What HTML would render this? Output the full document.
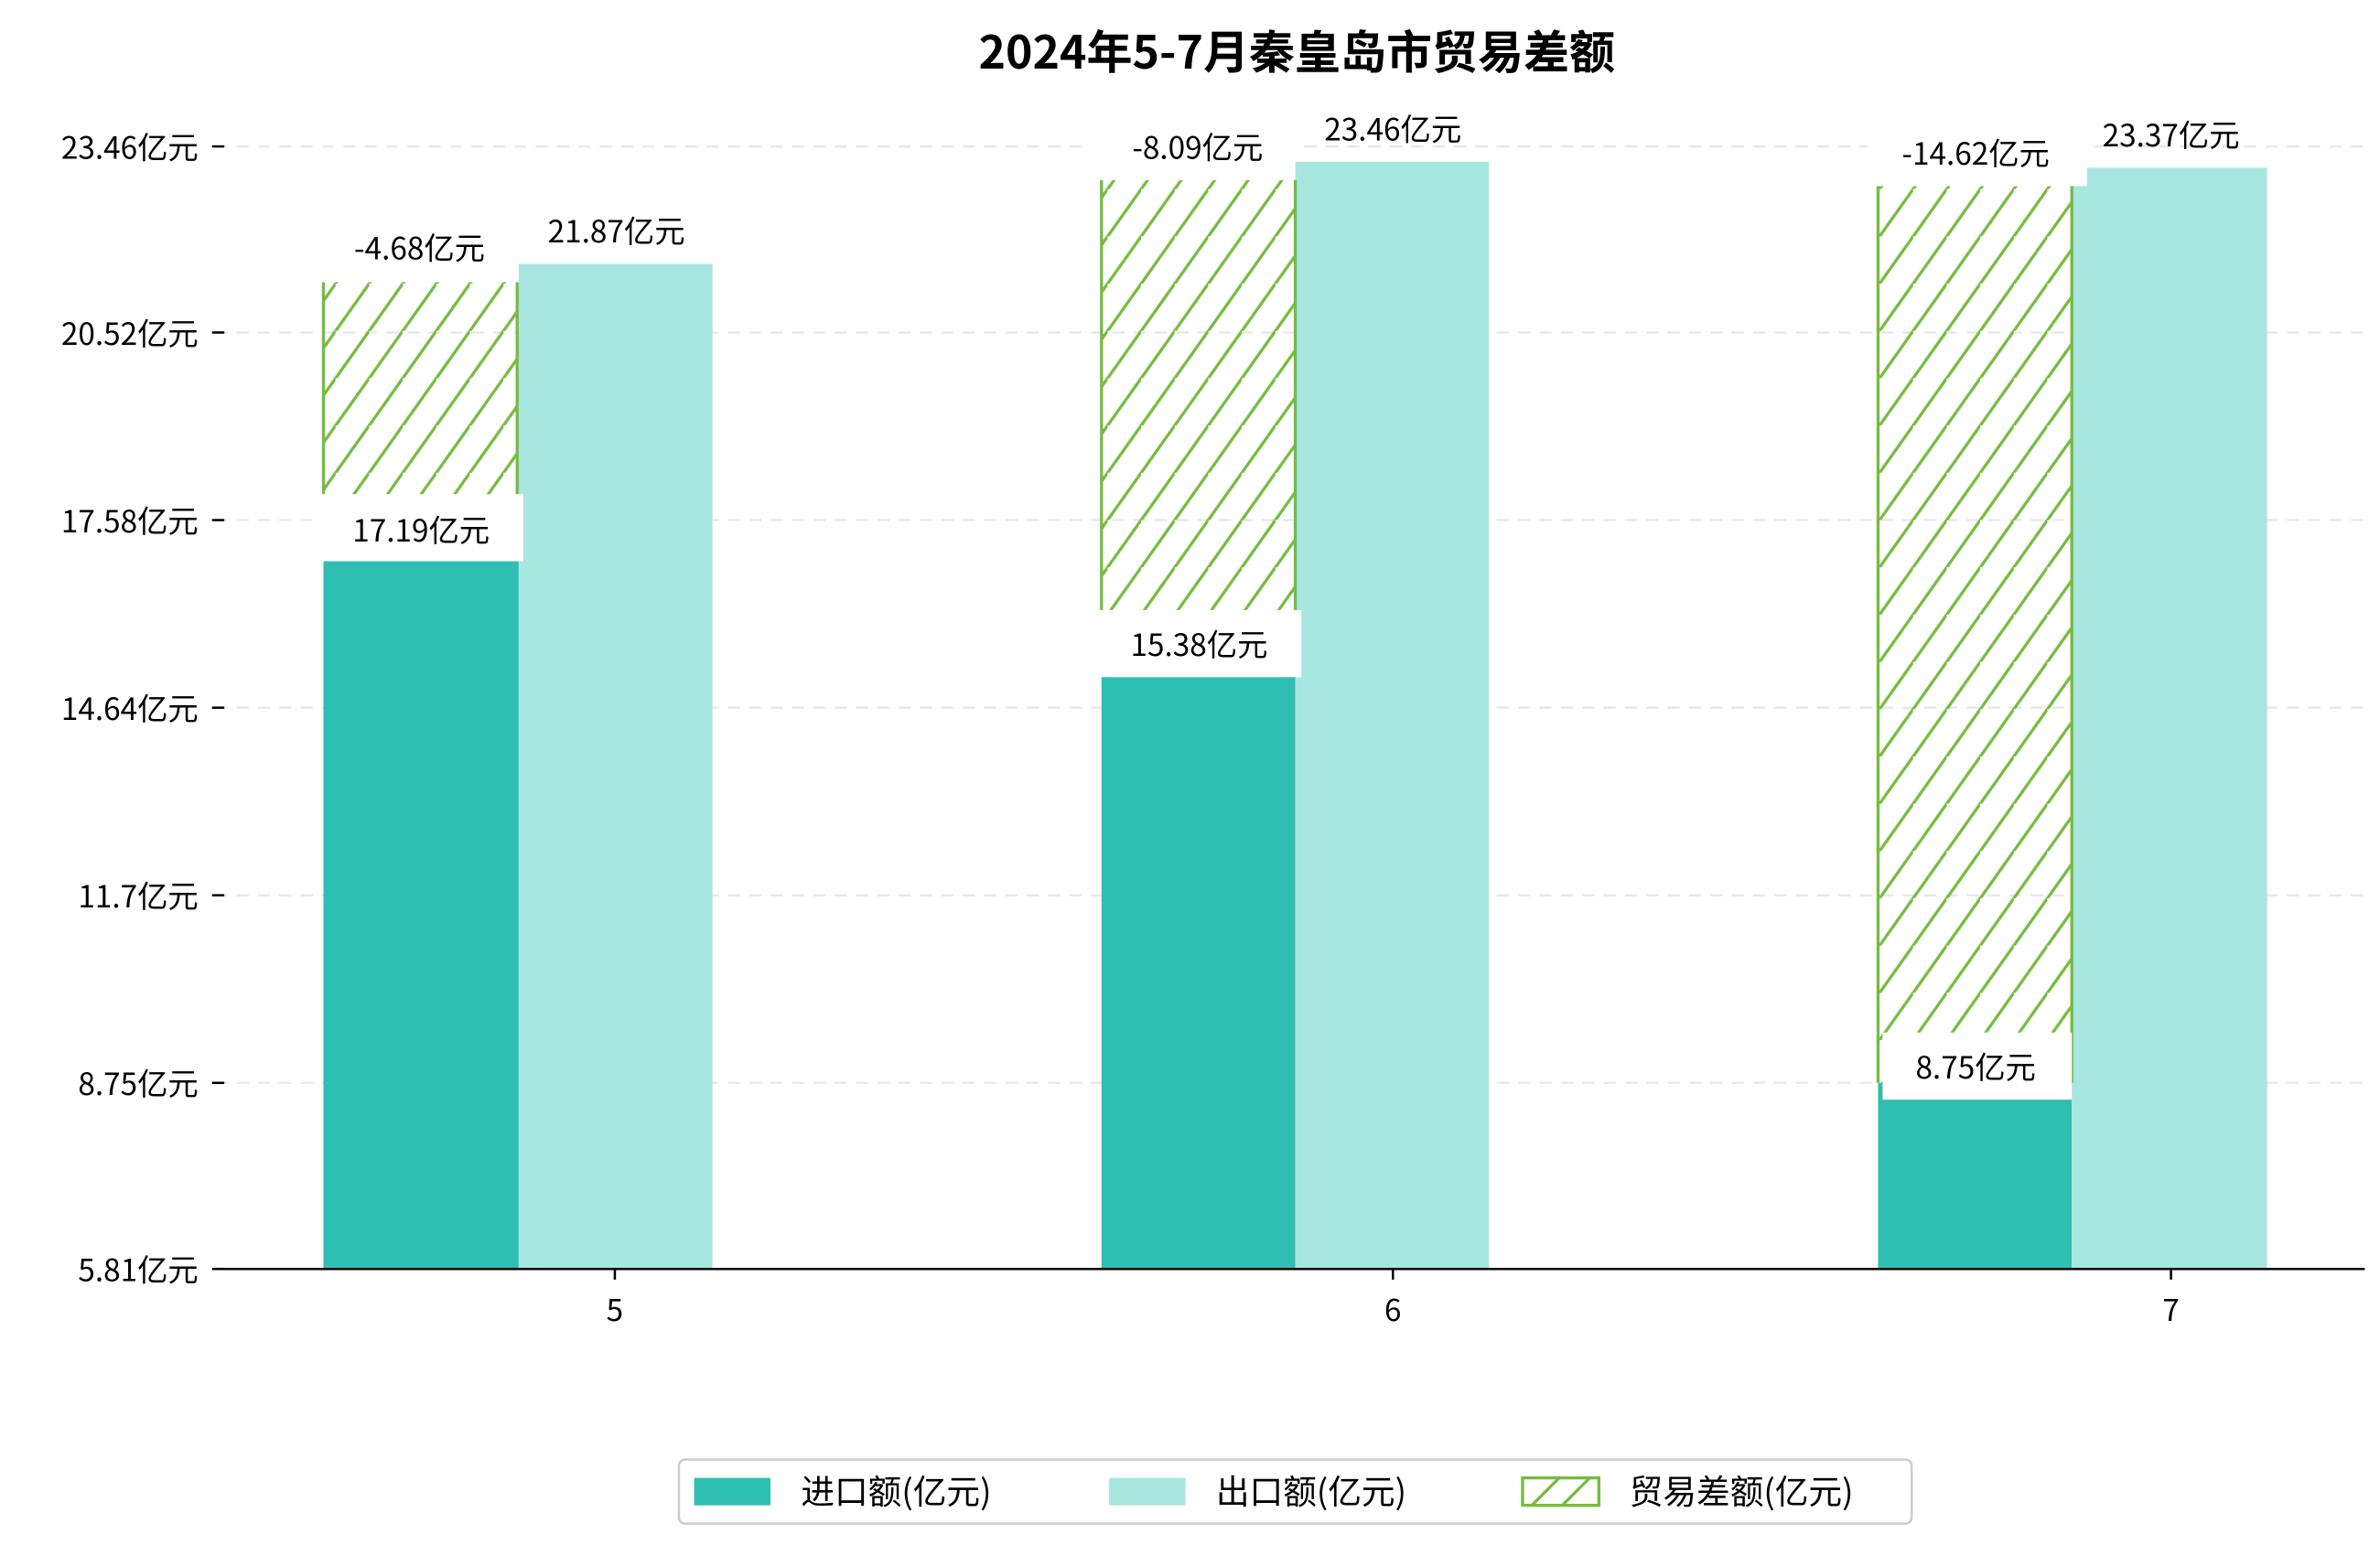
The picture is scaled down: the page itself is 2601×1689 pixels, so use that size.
<!DOCTYPE html>
<html><head><meta charset="utf-8"><style>
html,body{margin:0;padding:0;background:#fff;}
svg{display:block;}
text{font-family:"WenQuanYi Zen Hei","Noto Sans CJK SC",sans-serif;fill:#000;}
</style></head><body>
<svg width="2601" height="1689" viewBox="0 0 1560 1013" xmlns="http://www.w3.org/2000/svg">
<defs>
<pattern id="h" patternUnits="userSpaceOnUse" width="22" height="31">
<line x1="-22" y1="62" x2="22" y2="0" stroke="#77bb41" stroke-width="2"/>
<line x1="0" y1="62" x2="44" y2="0" stroke="#77bb41" stroke-width="2"/>
</pattern>
</defs>
<rect width="1560" height="1013" fill="#fff"/>
<text x="850" y="45" font-size="30" text-anchor="middle" font-weight="bold">2024年5-7月秦皇岛市贸易差额</text>
<g stroke="#e8e8e8" stroke-width="1.5" stroke-dasharray="8,6">
<line x1="141" y1="96" x2="1550" y2="96"/><line x1="141" y1="218" x2="1550" y2="218"/>
<line x1="141" y1="341" x2="1550" y2="341"/><line x1="141" y1="464" x2="1550" y2="464"/>
<line x1="141" y1="587" x2="1550" y2="587"/><line x1="141" y1="710" x2="1550" y2="710"/>
</g>
<g font-size="20" text-anchor="end">
<text x="130" y="104">23.46亿元</text><text x="130" y="226">20.52亿元</text>
<text x="130" y="349">17.58亿元</text><text x="130" y="472">14.64亿元</text>
<text x="130" y="595">11.7亿元</text><text x="130" y="718">8.75亿元</text>
<text x="130" y="840">5.81亿元</text>
</g>
<g stroke="#000" stroke-width="1.5">
<line x1="139" y1="96" x2="147" y2="96"/><line x1="139" y1="218" x2="147" y2="218"/>
<line x1="139" y1="341" x2="147" y2="341"/><line x1="139" y1="464" x2="147" y2="464"/>
<line x1="139" y1="587" x2="147" y2="587"/><line x1="139" y1="710" x2="147" y2="710"/>
<line x1="139" y1="832" x2="147" y2="832"/>
</g>
<rect x="212" y="357" width="128" height="475" fill="#2fbfb2"/>
<rect x="340" y="173" width="127" height="659" fill="#a8e6e0"/>
<rect x="722" y="433" width="127" height="399" fill="#2fbfb2"/>
<rect x="849" y="106" width="127" height="726" fill="#a8e6e0"/>
<rect x="1231" y="710" width="127" height="122" fill="#2fbfb2"/>
<rect x="1358" y="110" width="128" height="722" fill="#a8e6e0"/>
<rect x="212" y="185" width="127" height="172" fill="url(#h)"/>
<rect x="722" y="118" width="127" height="315" fill="url(#h)"/>
<rect x="1231" y="122" width="127" height="588" fill="url(#h)"/>
<g stroke="#77bb41" stroke-width="2">
<line x1="212" y1="185" x2="212" y2="357"/><line x1="339" y1="185" x2="339" y2="357"/>
<line x1="722" y1="118" x2="722" y2="433"/><line x1="849" y1="118" x2="849" y2="433"/>
<line x1="1231" y1="122" x2="1231" y2="710"/><line x1="1358" y1="122" x2="1358" y2="710"/>
</g>
<g fill="#fff">
<rect x="205" y="324" width="138" height="44"/>
<rect x="715" y="400" width="138" height="44"/>
<rect x="1234" y="677" width="124" height="44"/>
<rect x="205" y="142" width="134" height="42"/>
<rect x="715" y="76" width="134" height="42"/>
<rect x="1224" y="80" width="144" height="42"/>
</g>
<g font-size="20" text-anchor="middle">
<text x="276" y="355">17.19亿元</text>
<text x="786" y="430">15.38亿元</text>
<text x="1295" y="707">8.75亿元</text>
<text x="275" y="170">-4.68亿元</text>
<text x="785" y="104">-8.09亿元</text>
<text x="1295" y="108">-14.62亿元</text>
<text x="404" y="159">21.87亿元</text>
<text x="913" y="92">23.46亿元</text>
<text x="1423" y="96">23.37亿元</text>
</g>
<line x1="141" y1="832" x2="1550" y2="832" stroke="#000" stroke-width="1.5"/>
<g stroke="#000" stroke-width="1.5">
<line x1="403" y1="832" x2="403" y2="839"/><line x1="913" y1="832" x2="913" y2="839"/><line x1="1423" y1="832" x2="1423" y2="839"/>
</g>
<g font-size="20" text-anchor="middle">
<text x="403" y="866">5</text><text x="913" y="866">6</text><text x="1423" y="866">7</text>
</g>
<rect x="445" y="957" width="808" height="42" rx="4" fill="#fff" stroke="#ccc" stroke-width="1.5"/>
<rect x="455" y="969" width="50" height="18" fill="#2fbfb2"/>
<text x="525" y="986" font-size="22">进口额(亿元)</text>
<rect x="727" y="969" width="50" height="18" fill="#a8e6e0"/>
<text x="797" y="986" font-size="22">出口额(亿元)</text>
<rect x="998" y="969" width="50" height="18" fill="#fff" stroke="#77bb41" stroke-width="2"/>
<line x1="1004" y1="987" x2="1022" y2="969" stroke="#77bb41" stroke-width="2"/>
<line x1="1024" y1="987" x2="1042" y2="969" stroke="#77bb41" stroke-width="2"/>
<text x="1068" y="986" font-size="22">贸易差额(亿元)</text>
</svg>
</body></html>
